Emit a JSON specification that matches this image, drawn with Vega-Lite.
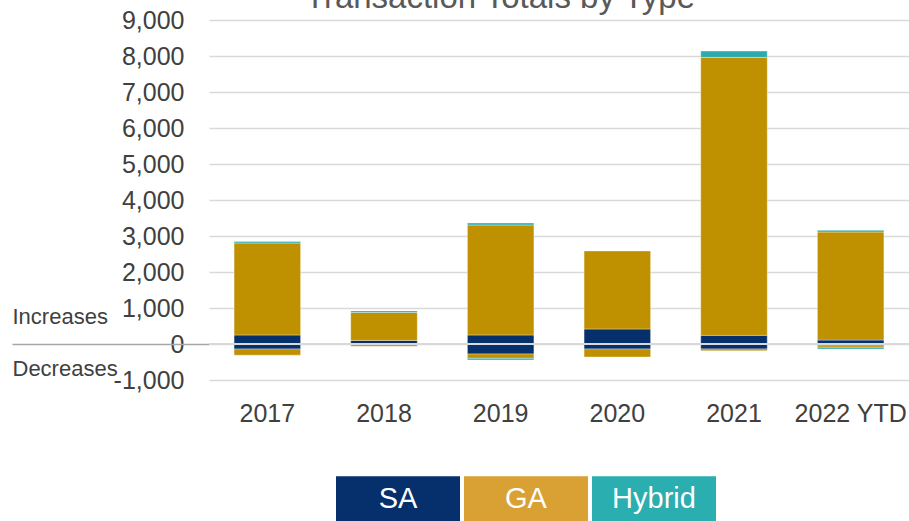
{
  "$schema": "https://vega.github.io/schema/vega-lite/v6.json",
  "width": 700,
  "height": 360,
  "autosize": {"type": "none"},
  "padding": {"left": 209, "top": 20, "right": 0, "bottom": 141},
  "background": "white",
  "title": {"text": "Transaction Totals by Type", "fontSize": 33, "font": "Liberation Sans", "fontWeight": "normal", "color": "#595959", "anchor": "middle", "dx": -59, "offset": -39.5, "baseline": "bottom"},
  "config": {"view": {"stroke": null}, "font": "Liberation Sans"},
  "layer": [
    {
      "data": {"values": [
        {"year": "2017", "type": "SA", "order": 1, "value": 250},
        {"year": "2017", "type": "GA", "order": 2, "value": 2556},
        {"year": "2017", "type": "Hybrid", "order": 3, "value": 40},
        {"year": "2017", "type": "SA", "order": 1, "value": -140},
        {"year": "2017", "type": "GA", "order": 2, "value": -170},
        {"year": "2018", "type": "SA", "order": 1, "value": 100},
        {"year": "2018", "type": "GA", "order": 2, "value": 775},
        {"year": "2018", "type": "Hybrid", "order": 3, "value": 45},
        {"year": "2018", "type": "SA", "order": 1, "value": -10},
        {"year": "2018", "type": "GA", "order": 2, "value": -50},
        {"year": "2019", "type": "SA", "order": 1, "value": 250},
        {"year": "2019", "type": "GA", "order": 2, "value": 3056},
        {"year": "2019", "type": "Hybrid", "order": 3, "value": 55},
        {"year": "2019", "type": "SA", "order": 1, "value": -278},
        {"year": "2019", "type": "GA", "order": 2, "value": -120},
        {"year": "2019", "type": "Hybrid", "order": 3, "value": -45},
        {"year": "2020", "type": "SA", "order": 1, "value": 417},
        {"year": "2020", "type": "GA", "order": 2, "value": 2167},
        {"year": "2020", "type": "SA", "order": 1, "value": -139},
        {"year": "2020", "type": "GA", "order": 2, "value": -222},
        {"year": "2021", "type": "SA", "order": 1, "value": 240},
        {"year": "2021", "type": "GA", "order": 2, "value": 7722},
        {"year": "2021", "type": "Hybrid", "order": 3, "value": 175},
        {"year": "2021", "type": "SA", "order": 1, "value": -139},
        {"year": "2021", "type": "GA", "order": 2, "value": -47},
        {"year": "2022 YTD", "type": "SA", "order": 1, "value": 110},
        {"year": "2022 YTD", "type": "GA", "order": 2, "value": 3000},
        {"year": "2022 YTD", "type": "Hybrid", "order": 3, "value": 47},
        {"year": "2022 YTD", "type": "SA", "order": 1, "value": -30},
        {"year": "2022 YTD", "type": "GA", "order": 2, "value": -60},
        {"year": "2022 YTD", "type": "Hybrid", "order": 3, "value": -50}
      ]},
      "mark": {"type": "bar", "stroke": "white", "strokeOpacity": 0.35, "strokeWidth": 1},
      "encoding": {
        "x": {"field": "year", "type": "nominal", "sort": null,
          "scale": {"paddingInner": 0.43, "paddingOuter": 0.215},
          "axis": {"title": null, "labelAngle": 0, "domain": false, "ticks": false, "labelFontSize": 25, "labelColor": "#404040", "labelPadding": 21, "labelFont": "Liberation Sans"}},
        "y": {"field": "value", "type": "quantitative", "stack": "zero",
          "scale": {"domain": [-1000, 9000], "nice": false, "zero": false},
          "axis": {"title": null, "orient": "left", "values": [-1000, 0, 1000, 2000, 3000, 4000, 5000, 6000, 7000, 8000, 9000],
            "labelExpr": "replace(format(datum.value, ',.0f'), '\u2212', '-')",
            "domain": false, "ticks": false, "labelFontSize": 25, "labelColor": "#404040", "labelPadding": 25, "labelFont": "Liberation Sans", "gridColor": "#D9D9D9", "gridWidth": 1.5}},
        "color": {"field": "type", "type": "nominal",
          "scale": {"domain": ["SA", "GA", "Hybrid"], "range": ["#05306B", "#BF9000", "#2AACAE"]},
          "legend": null},
        "order": {"field": "order", "type": "quantitative"}
      }
    },
    {
      "data": {"values": [{"v": 0}]},
      "mark": {"type": "rule", "color": "#D9D9D9", "strokeWidth": 2},
      "encoding": {
        "y": {"field": "v", "type": "quantitative",
          "scale": {"domain": [-1000, 9000], "nice": false, "zero": false},
          "axis": {"orient": "left", "title": null, "values": [767, 0, -678],
            "labelExpr": "datum.value > 0 ? 'Increases' : (datum.value < 0 ? 'Decreases' : '')",
            "domain": false, "grid": false, "ticks": true, "tickSize": 197, "tickWidth": 1.5,
            "tickColor": {"condition": {"test": "datum.value === 0", "value": "#A6A6A6"}, "value": "transparent"},
            "labelAlign": "left", "labelPadding": 0, "labelFontSize": 22, "labelColor": "#404040", "labelBaseline": "middle", "labelFont": "Liberation Sans"}}
      }
    },
    {
      "data": {"values": [{"type": "SA"}, {"type": "GA"}, {"type": "Hybrid"}]},
      "mark": {"type": "bar", "opacity": 0},
      "encoding": {
        "color": {"field": "type", "type": "nominal",
          "scale": {"domain": ["SA", "GA", "Hybrid"], "range": ["#05306B", "#D9A033", "#2AAEAF"]},
          "legend": {"orient": "none", "legendX": 127, "legendY": 416.5, "direction": "horizontal", "title": null,
            "symbolType": "M-1,-0.363H1V0.363H-1Z", "symbolSize": 15376, "symbolStrokeWidth": 0, "symbolOpacity": 1,
            "labelOffset": -62, "labelAlign": "center", "labelBaseline": "middle", "labelColor": "white", "labelFontSize": 29, "labelFont": "Liberation Sans", "labelLimit": 300,
            "columnPadding": 4, "padding": 0}}
      }
    }
  ],
  "resolve": {"axis": {"y": "independent"}, "scale": {"color": "independent"}}
}
